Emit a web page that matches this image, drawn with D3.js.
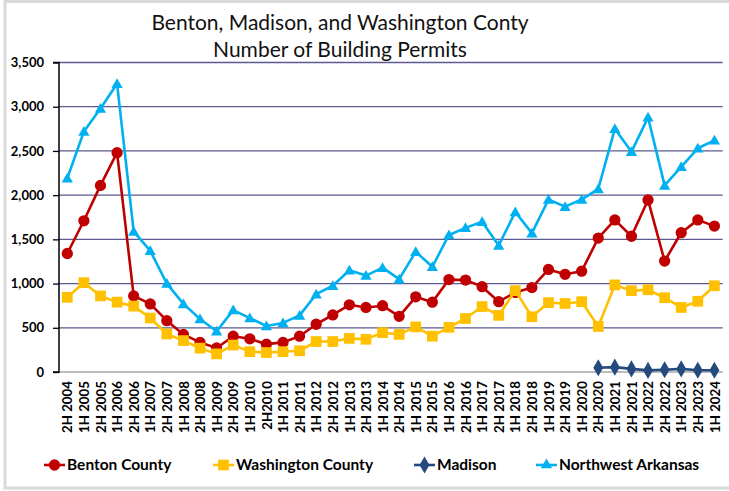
<!DOCTYPE html>
<html>
<head>
<meta charset="utf-8">
<script src="https://cdn.jsdelivr.net/npm/d3@7"></script>
<style>
  html, body { margin: 0; padding: 0; background: #fff; }
  svg { display: block; }
</style>
</head>
<body>
<svg id="chart" width="729" height="491"></svg>
<script>
const categories = ["2H 2004","1H 2005","2H 2005","1H 2006","2H 2006","1H 2007","2H 2007","1H 2008","2H 2008","1H 2009",
  "2H 2009","1H 2010","2H2010","1H 2011","2H 2011","1H 2012","2H 2012","1H 2013","2H 2013","1H 2014",
  "2H 2014","1H 2015","2H 2015","1H 2016","2H 2016","1H 2017","2H 2017","1H 2018","2H 2018","1H 2019",
  "2H 2019","1H 2020","2H 2020","1H 2021","2H 2021","1H 2022","2H 2022","1H 2023","2H 2023","1H 2024"];

const bentonValues = [1340,1710,2110,2480,860,770,580,425,335,272,405,375,315,335,405,540,645,760,730,750,
  630,850,790,1045,1040,965,795,900,955,1160,1105,1140,1515,1720,1535,1945,1255,1575,1720,1650];

const washingtonValues = [845,1010,860,790,745,610,430,355,270,205,305,230,220,230,240,345,345,380,370,445,
  425,510,405,505,605,740,640,920,625,785,775,795,515,985,920,930,840,730,800,975];

const madisonValues = [null,null,null,null,null,null,null,null,null,null,null,null,null,null,null,null,null,null,null,null,
  null,null,null,null,null,null,null,null,null,null,null,null,48,55,35,18,25,35,20,20];

const nwaValues = [2190,2720,2980,3260,1590,1370,1000,770,600,460,700,610,520,555,640,880,975,1150,1090,1180,
  1050,1360,1190,1550,1630,1700,1430,1810,1570,1950,1870,1950,2070,2750,2490,2880,2110,2320,2530,2620];

const yTicks = [0,500,1000,1500,2000,2500,3000,3500];
const titleLines = ["Benton, Madison, and Washington Conty", "Number of Building Permits"];

const series = [
  { name: "Benton County", values: bentonValues, color: "#C00000", marker: "circle" },
  { name: "Washington County", values: washingtonValues, color: "#FFC000", marker: "square" },
  { name: "Madison", values: madisonValues, color: "#244A7E", marker: "diamond" },
  { name: "Northwest Arkansas", values: nwaValues, color: "#00B0F0", marker: "triangle" }
];

const FONT = "Lato, 'Open Sans', 'Liberation Sans', sans-serif";
const svg = d3.select("#chart");

// outer frame
svg.append("rect").attr("x", 5).attr("y", 1.5).attr("width", 740).attr("height", 486.5)
  .attr("fill", "none").attr("stroke", "#d9d9d9").attr("stroke-width", 3);

const plot = { left: 59, right: 722.7, top: 62.5, bottom: 372 };

const x = d3.scalePoint().domain(categories).range([plot.left, plot.right]).padding(0.5);
const y = d3.scaleLinear().domain([0, 3500]).range([plot.bottom, plot.top]);

// title
svg.append("g").selectAll("text").data(titleLines).join("text")
  .attr("x", 340).attr("y", (d, i) => 30 + i * 26.5)
  .attr("text-anchor", "middle")
  .style("font-family", FONT).style("font-size", "21px").style("fill", "#111")
  .text(d => d);

// gridlines
svg.append("g").selectAll("line").data(yTicks.filter(v => v > 0)).join("line")
  .attr("x1", plot.left).attr("x2", plot.right)
  .attr("y1", d => y(d)).attr("y2", d => y(d))
  .attr("stroke", "#5c5a8e").attr("stroke-width", 1.3);

// x axis line
svg.append("line").attr("x1", plot.left).attr("x2", plot.right)
  .attr("y1", plot.bottom).attr("y2", plot.bottom)
  .attr("stroke", "#a6a6a6").attr("stroke-width", 1.3);

// y axis
const yAxis = d3.axisLeft(y).tickValues(yTicks).tickFormat(d3.format(",")).tickSize(6).tickPadding(9);
const yg = svg.append("g").attr("transform", `translate(${plot.left},0)`).call(yAxis);
yg.select(".domain").attr("stroke", "#000").attr("stroke-width", 1.5).attr("d", `M-6,${plot.top}H0V${plot.bottom}H-6`);
yg.selectAll(".tick line").attr("stroke", "#000").attr("stroke-width", 1.3);
yg.selectAll(".tick text").style("font-family", FONT).style("font-size", "13px")
  .style("font-weight", "bold").style("fill", "#000");

// x axis labels
const xAxis = d3.axisBottom(x).tickSize(0).tickPadding(0);
const xg = svg.append("g").attr("transform", `translate(0,${plot.bottom})`).call(xAxis);
xg.select(".domain").remove();
xg.selectAll(".tick text")
  .attr("transform", "translate(0,9) rotate(-90)")
  .attr("x", 0).attr("y", 0).attr("dy", "0.35em")
  .attr("text-anchor", "end")
  .style("font-family", FONT).style("font-size", "13.3px").style("font-weight", "bold").style("fill", "#000");

// marker symbol helper
function markerPath(type, size) {
  const sym = { circle: d3.symbolCircle, square: d3.symbolSquare, diamond: d3.symbolDiamond, triangle: d3.symbolTriangle }[type];
  return d3.symbol().type(sym).size(size)();
}
const markerSize = { circle: 100, square: 115, diamond: 85, triangle: 55 };

const line = d3.line()
  .defined(d => d.v != null)
  .x(d => x(d.c)).y(d => y(d.v));

series.forEach(s => {
  const pts = s.values.map((v, i) => ({ c: categories[i], v }));
  const g = svg.append("g");
  g.append("path").datum(pts).attr("d", line)
    .attr("fill", "none").attr("stroke", s.color).attr("stroke-width", 2.6).attr("stroke-linejoin", "round");
  g.selectAll("path.m").data(pts.filter(d => d.v != null)).join("path").attr("class", "m")
    .attr("d", markerPath(s.marker, markerSize[s.marker]))
    .attr("transform", d => `translate(${x(d.c)},${y(d.v) + (s.marker === "triangle" ? 1 : 0)})`)
    .attr("fill", s.color);
});

// legend
const legendX = [44, 213, 414, 536];
const lg = svg.append("g").selectAll("g").data(series).join("g")
  .attr("transform", (d, i) => `translate(${legendX[i]},465)`);
lg.append("line").attr("x1", 0).attr("x2", 21).attr("y1", 0).attr("y2", 0)
  .attr("stroke", d => d.color).attr("stroke-width", 2.6);
lg.append("path").attr("d", d => markerPath(d.marker, markerSize[d.marker]))
  .attr("transform", "translate(10.5,0)").attr("fill", d => d.color);
lg.append("text").attr("x", 23).attr("y", 0).attr("dy", "0.35em")
  .style("font-family", FONT).style("font-size", "15.5px").style("font-weight", "bold").style("fill", "#000")
  .text(d => d.name);
</script>
</body>
</html>
